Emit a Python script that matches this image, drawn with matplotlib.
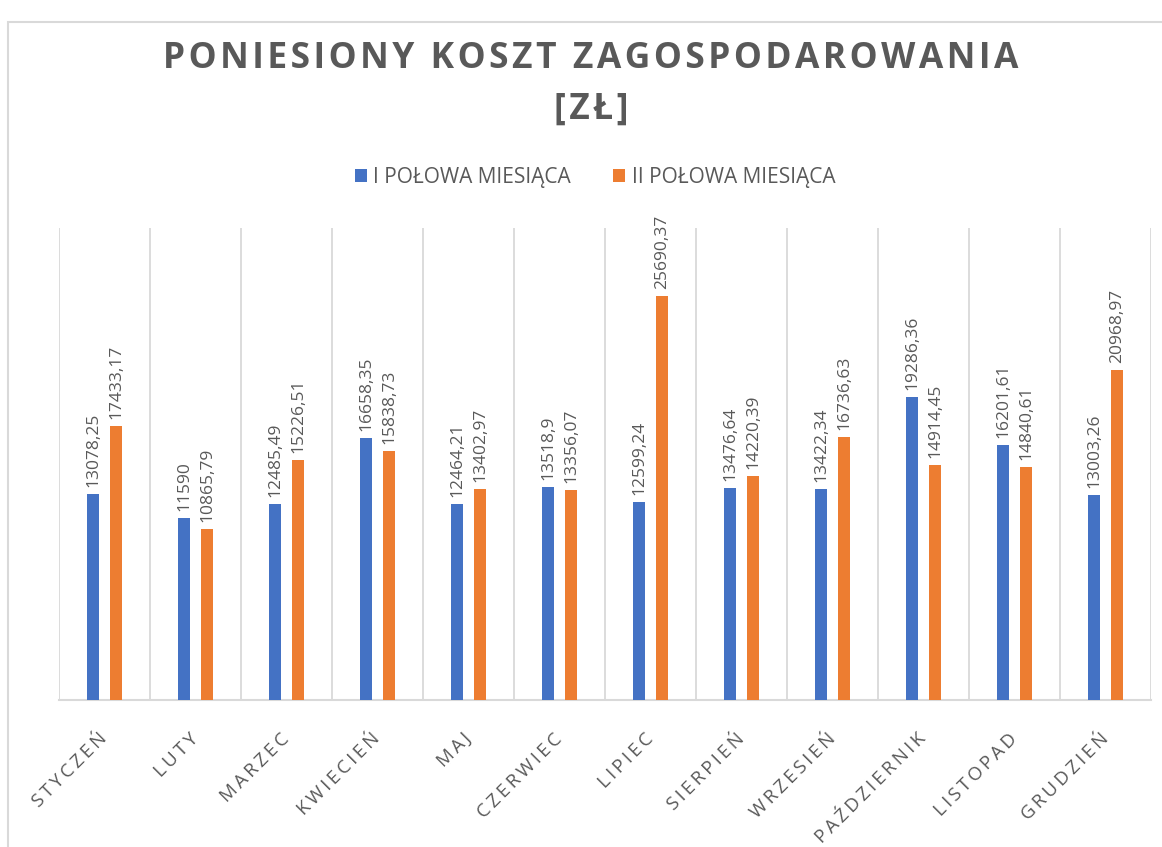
import matplotlib
matplotlib.use("Agg")
import matplotlib.pyplot as plt
import numpy as np
from matplotlib.patches import Rectangle

months = ["STYCZEŃ", "LUTY", "MARZEC", "KWIECIEŃ", "MAJ", "CZERWIEC", "LIPIEC",
          "SIERPIEŃ", "WRZESIEŃ", "PAŹDZIERNIK", "LISTOPAD", "GRUDZIEŃ"]
first_half = [13078.25, 11590, 12485.49, 16658.35, 12464.21, 13518.9, 12599.24,
              13476.64, 13422.34, 19286.36, 16201.61, 13003.26]
second_half = [17433.17, 10865.79, 15226.51, 15838.73, 13402.97, 13356.07, 25690.37,
               14220.39, 16736.63, 14914.45, 14840.61, 20968.97]
series_names = ["I POŁOWA MIESIĄCA", "II POŁOWA MIESIĄCA"]
title_line1 = "PONIESIONY KOSZT ZAGOSPODAROWANIA"
title_line2 = "[ZŁ]"

BLUE = "#4472C4"
ORANGE = "#ED7D31"
TXT = "#595959"
GRID = "#D9D9D9"
FONT = ["Open Sans", "DejaVu Sans"]
plt.rcParams['font.family'] = FONT

W, H = 1162, 847
fig = plt.figure(figsize=(W / 100, H / 100), dpi=100)
fig.patch.set_facecolor("white")

# outer chart border
fig.add_artist(Rectangle((8 / W, -0.05), 1.1, 1 - 22 / H + 0.05, transform=fig.transFigure,
                         fill=False, edgecolor=GRID, linewidth=1.5, clip_on=False))

ax = fig.add_axes([59 / W, 1 - 700 / H, (1151 - 59) / W, (700 - 228) / H])
x = np.arange(len(months))
bw = 0.13
off = 0.126
b1 = ax.bar(x - off, first_half, width=bw, color=BLUE, label=series_names[0], zorder=3)
b2 = ax.bar(x + off, second_half, width=bw, color=ORANGE, label=series_names[1], zorder=3)

ax.set_xlim(-0.5, len(months) - 0.5)
ax.set_ylim(0, 30000)
ax.set_yticks([])
for s in ["top", "left", "right"]:
    ax.spines[s].set_visible(False)
ax.spines["bottom"].set_color(GRID)
ax.spines["bottom"].set_linewidth(1.5)
for b in np.arange(-0.5, len(months), 1.0):
    ax.axvline(b, color=GRID, linewidth=1.3, zorder=1)


def fmt(v):
    s = f"{v:.2f}".rstrip("0").rstrip(".")
    return s.replace(".", ",")


def spaced(s, sp="\u200a"):
    return sp.join(list(s))


for bars, vals in [(b1, first_half), (b2, second_half)]:
    for r, v in zip(bars, vals):
        ax.annotate(fmt(v), (r.get_x() + r.get_width() / 2, v), xytext=(0, 5),
                    textcoords="offset points", rotation=90, ha="center", va="bottom",
                    fontsize=12.5, color=TXT)

ax.set_xticks(x)
ax.set_xticklabels([spaced(m, "\u2009") for m in months], rotation=45, ha="right", va="center",
                   rotation_mode="anchor", fontsize=13.5, color=TXT)
ax.tick_params(axis="x", length=0, pad=26)

fig.text(591 / W, 1 - 59 / H, spaced(title_line1), ha="center",
         va="center", fontsize=25.5, fontweight="bold", color=TXT)
fig.text(591 / W, 1 - 110 / H, spaced(title_line2), ha="center",
         va="center", fontsize=25.5, fontweight="bold", color=TXT)

leg = fig.legend(handles=[b1, b2], loc="center", bbox_to_anchor=(595 / W, 1 - 177 / H),
                 ncol=2, frameon=False, fontsize=15, labelcolor=TXT,
                 handlelength=0.6, handleheight=0.6, handletextpad=0.3, columnspacing=2.0)

fig.savefig("out.png", dpi=100, facecolor="white")
